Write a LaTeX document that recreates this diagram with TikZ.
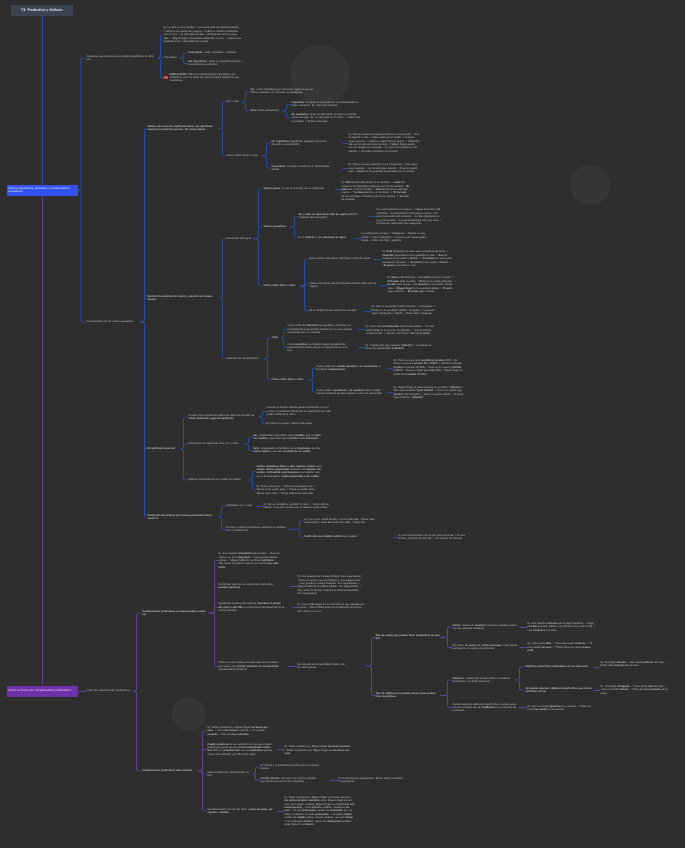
\documentclass[tikz,border=0pt]{standalone}
\usepackage{fontspec}
\setmainfont{Lato}
\usepackage{tikz}
\usetikzlibrary{positioning, calc}
\definecolor{cBg}{RGB}{46,46,46}
\definecolor{cDisc}{RGB}{54,54,54}
\definecolor{cTxt}{RGB}{212,212,212}
\definecolor{cTitle}{RGB}{58,68,80}
\definecolor{cBlue}{RGB}{50,82,238}
\definecolor{cBlueLn}{RGB}{42,76,160}
\definecolor{cPurp}{RGB}{112,48,170}
\definecolor{cPurpLn}{RGB}{96,66,150}
\definecolor{cRed}{RGB}{222,64,64}
\pgfdeclarelayer{back}
\pgfdeclarelayer{lines}
\pgfsetlayers{back,lines,main}
\tikzset{
	titlebox/.style={rectangle, fill=cTitle, text=white, font=\fontsize{3.6}{4.2}\selectfont\bfseries, minimum width=62pt, minimum height=11pt, inner sep=1pt},
	mainb/.style   ={rectangle, fill=cBlue, text=white, font=\fontsize{3}{3.6}\selectfont, text width=68pt, minimum height=11pt, align=left, inner sep=1.5pt},
	mainp/.style   ={mainb, fill=cPurp},
	topic/.style   ={anchor=west, text=cTxt, font=\fontsize{2.6}{3.4}\selectfont, align=left, inner sep=0.5pt},
	hot/.style     ={topic, font=\fontsize{2.6}{3.4}\selectfont\bfseries},
	alert/.style   ={rectangle, fill=cRed, text=white, font=\fontsize{2.4}{2.4}\selectfont\bfseries, minimum size=3.6pt, inner sep=0pt},
	% connector styles
	bl/.style      ={draw=cBlueLn, line width=0.7pt, rounded corners=1.5pt},
	pl/.style      ={draw=cPurpLn, line width=0.7pt, rounded corners=1.5pt},
}

\begin{document}
\begin{tikzpicture}[x=1pt, y=-1pt]
\begin{pgfonlayer}{back}
	\fill[cBg] (0,0) rectangle (685,848);
	\fill[cDisc] (320,75) circle (30);
	\fill[cDisc] (590,185) circle (20);
	\fill[cDisc] (189,714) circle (17);
\end{pgfonlayer}
\useasboundingbox (0,0) rectangle (685,848);

\node[titlebox] (title) at (42,10.5) {T3: Predicativo y Atributo};
\node[mainb] (vcop) at (42,190) {Verbos copulativos, atributos y construcciones copulativas};
\node[mainp] (cpred) at (42,691) {Construcciones con complementos predicativos};

% ---- verbos copulativos
\node[topic, text width=70pt] (ora) at (86,58) {Oraciones que contienen una relación predicativa de atributo};
\node[topic, text width=53pt] (car) at (86,322) {Características de los verbos copulativos};

\node[topic, text width=78pt] (ora1) at (163,35) {Ej. La niña es muy amable. / La comida está rica (diferenciación). / Jaime se ha vuelto muy seguro. / Isabel se muestra satisfecha con su casa. / El café anda escaso. / El bienestar parece asegurado. / Miguel llegó a los puestos exhausto, al verle. / Isabel se ha quedado triste y deprimida por el gato.};
\node[topic, text width=14pt] (dos) at (164,58) {Dos clases};
\node[alert] (icn) at (166,77.5) {!};
\node[topic, text width=70pt, right=1pt of icn] (concl) {\textbf{CONCLUSIÓN}: Todas las construcciones copulativas son atributivas, pero no todas las construcciones atributivas son copulativas.};
\node[topic, text width=62pt] (cop) at (188,53) {\textbf{Copulativos}: verbo copulativo + atributo};
\node[topic, text width=60pt] (ncop) at (188,63.5) {\textbf{No Copulativos}: verbo no copulativo (pleno) + complemento predicativo};

\node[hot, text width=70pt] (vac) at (147,128.5) {Verbos casi vacíos de significado léxico, con significado aspectual o modal de persona. No verbos plenos.};
\node[hot, text width=70pt] (rsem) at (147,298) {Restricción semántica del sujeto y selección de complementos};
\node[hot, text width=32pt] (asp) at (147,449) {El significado aspectual};
\node[hot, text width=70pt] (sust) at (147,517) {Sustitución del atributo por la forma pronominal átona neutra lo};

\node[topic, text width=14pt] (sye) at (226,102) {Ser y estar};
\node[topic, text width=35pt] (otr1) at (226,156) {Otros verbos afines a estar};
\node[topic, text width=66pt] (ser) at (250,91) {\textbf{Ser}: verbo copulativo que afirma del sujeto lo que significa el atributo. Ej. Mi padre es inteligente.};
\node[topic, text width=30pt] (est) at (250,111) {\textbf{Estar} (verbo polivalente)};
\node[topic, text width=70pt] (estc) at (291,104.5) {\textbf{Copulativo}: el sujeto se encuentra en un determinado estado o situación. Ej. Juan está cansado.};
\node[topic, text width=70pt] (estn) at (291,118) {\textbf{No copulativo} (verbo de ubicación): necesita un complemento de lugar. Ej. La casa está en el centro. / Isabel está en el baño. / El libro está aquí.};
\node[topic, text width=62pt] (nc1) at (271,143) {\textbf{No copulativos} (significado originario de acción, situación o movimiento)};
\node[topic, text width=60pt] (c1) at (271,168) {\textbf{Copulativos}: el sujeto se halla en un determinado estado};
\node[topic, text width=72pt] (nc1e) at (348,143) {Ej. Teresa se puso la chaqueta (colocarse una prenda). / Ana se marchó a casa. / Jaime anda por el pasillo. / La lluvia sigue cayendo. / Isabel se volvió hacia la puerta. / Sebastián sale por la ventana todos los días. / Miguel Ángel quedó con sus amigos en el parque. / La casa se encuentra en las afueras. / Los niños continúan en el jardín.};
\node[topic, text width=72pt] (c1e) at (348,168.5) {Ej. Teresa se puso contenta al ver a Alejandro. / Sara anda muy ocupada. / La comida sigue caliente. / El perro quedó solo. / Raquel se ha quedado sorprendida con la noticia.};

\node[topic, text width=26pt] (rsuj) at (226,239) {Restricción del sujeto};
\node[topic, text width=36pt] (scomp) at (226,359) {Selección de complementos};
\node[topic, text width=68pt] (vpl) at (263,189) {\textbf{Verbos plenos}: el que lo restringe por su significado};
\node[topic, text width=25pt] (vcp) at (263,227) {\textbf{Verbos copulativos}};
\node[topic, text width=36pt] (otr2) at (263,286) {\textbf{Otros verbos afines a estar}};
\node[topic, text width=68pt] (vple) at (341,191.5) {Ej. \textbf{Marina} (humano) abrazó a su hermana. / \textbf{Laura} (humano) se ha marchado a Valencia este fin de semana. / \textbf{El árbol} (ser vivo) ha crecido. / \textbf{Jaime} (humano) ha pensado mucho. / \textbf{*La mesa} abrazó a su hermano. / \textbf{*El tornado} se ha marchado a Valencia este fin de semana. / \textbf{*La roca} ha pensado.};
\node[topic, text width=64pt] (sns) at (298,216.5) {\textbf{Ser y estar no seleccionan tipo de sujeto} (admiten cualquier tipo de sujeto)};
\node[topic, text width=52pt] (esa1) at (298,238) {Es el \textbf{atributo} el que \textbf{selecciona el sujeto}};
\node[topic, text width=66pt] (snse) at (376,217) {Ej. Laura (humano) es morena. / Miguel (humano) está enfadado. / El ordenador (inanimado) es nuevo. / El perro (animado) está contento. / La idea (abstracto) es muy interesante. / La sala (inanimado) está muy llena. / El bienestar (abstracto) está asegurado.};
\node[topic, text width=68pt] (esa1e) at (361,237.5) {La conferencia es larga / *inteligente. / Miriam es muy astuta / *muy rectangular. / La mesa está *preocupada / limpia. / Julia está *ágil / agotada.};
\node[topic, text width=63pt] (evr) at (309,259) {Estos verbos copulativos restringen el tipo de sujeto};
\node[topic, text width=68pt] (cds) at (309,285) {Como copulativos (desemantizados) admiten todo tipo de sujetos};
\node[topic, text width=54pt] (esa2) at (309,311) {Es el atributo el que selecciona el sujeto};
\node[topic, text width=70pt] (evre) at (382,259) {Ej. \textbf{Ruth} (femenino) se puso unos pantalones de pinza. / \textbf{Sebastián} (masculino) se ha quedado en casa. / \textbf{Ana} (femenino) se ha vuelto a Madrid. / \textbf{*La lámpara} se puso unos pantalones de pinza. / \textbf{*La sartén} se ha vuelto a Madrid. / \textbf{*El guante} se quedó en casa.};
\node[topic, text width=68pt] (cdse) at (387,285) {Ej. \textbf{Elena} anda distraída. / \textbf{La sartén} anda por el suelo. / \textbf{El tiempo} anda revuelto. / \textbf{El río} se ha vuelto peligroso. / \textbf{El café} anda escaso. / \textbf{La situación} se ha vuelto complicada. / \textbf{Miguel Ángel} se ha quedado callado. / \textbf{El perro} sigue enfermo. / \textbf{El pastel} sigue caliente.};
\node[topic, text width=66pt] (esa2e) at (371,310.5) {Ej. Juan se ha puesto/vuelto nervioso / *rectangular. / El libro se ha quedado *pálido / arrugado. / La puerta sigue *inteligente / abierta. / Elena anda *triangular.};

\node[topic, text width=8pt] (sest) at (272,338) {\textbf{Estar}};
\node[topic, text width=36pt] (otr3) at (271,380) {\textbf{Otros verbos afines a estar}};
\node[topic, text width=65pt] (ubi) at (287,329.5) {Como verbo de \textbf{ubicación} no copulativo, selecciona un complemento preposicional locativo (en su uso espacial, no omisible por el contexto)};
\node[topic, text width=65pt] (ecop) at (287,347.5) {Como \textbf{copulativo}, no implica ningún complemento preposicional locativo porque su significado es estativo};
\node[topic, text width=70pt] (ubie) at (365,330.5) {Ej. Laura está \textbf{en Ponferrada} este fin de semana. / Yo solo estaré \textbf{tarde} en la casa de mis abuelos. / *Laura está (sin complemento). / ¿Dónde está Carlos? Está \textbf{en el jardín}.};
\node[topic, text width=68pt] (ecope) at (365,347.5) {Ej. Virginia está muy cansada \textbf{*(¿dónde?)} / La película estuvo muy entretenida \textbf{*(¿dónde?)}.};
\node[topic, text width=66pt] (mov) at (316,368) {Como verbos de \textbf{sentido ubicativo} o de \textbf{movimiento} seleccionan \textbf{complementos}};
\node[topic, text width=66pt] (ncl) at (316,392) {Como verbos \textbf{copulativos} o \textbf{no requieren} estos complementos locativos (pueden aparecer, pero son opcionales)};
\node[topic, text width=70pt] (move) at (393,367.5) {Ej. Marta se puso unos \textbf{pantalones de pinza} (OD). / Alberto se puso \textbf{en primera fila} (CPREP). / Gabriela anda \textbf{por la playa} a menudo (CPREP). / Anna se ha vuelto \textbf{a Madrid} (CPREP). / El perro siguió \textbf{a su ama} (OD). / Miguel Ángel se quedó \textbf{en el pueblo} (CPREP).};
\node[topic, text width=70pt] (ncle) at (393,392.5) {Ej. Miguel Ángel se puso nervioso en la sesión \textbf{*(¿dónde?)} / Sara anda ocupada \textbf{*(¿por dónde?)}. / Ana se ha vuelto \textbf{*(¿a dónde?)} más tranquila. / Jaime se quedó callado. / El perro sigue enfermo \textbf{*(¿dónde?)}.};

\node[topic, text width=69pt] (apes) at (188,417) {A pesar de su significado abstracto, difícil de precisar, \textbf{se añade solamente rasgos de significado}};
\node[topic, text width=55pt] (dif) at (188,444) {Diferencias de significado entre ser y estar};
\node[topic, text width=59pt] (mat) at (188,480) {Matices aspectuales de los verbos de cambio};
\node[topic, text width=66pt] (cuan) at (266,411.5) {Cuando un mismo atributo puede combinarse con ser y estar, se producen diferencias de significado que solo puede atribuirse al verbo};
\node[topic, text width=60pt] (elev) at (266,424) {Ej. Elevar es guapo / Elevar está guapo};
\node[topic, text width=68pt] (ser2) at (253,437) {\textbf{Ser}: propiedades concebidas como \textbf{estables}, que no \textbf{implican cambio} y que sirven para \textbf{clasificar a los individuos}.};
\node[topic, text width=68pt] (est2) at (253,450.5) {\textbf{Estar}: propiedades concebidas como \textbf{transitorias}, que \textbf{implican cambio} y que \textbf{son resultado de un cambio}.};
\node[topic, text width=66pt] (vca) at (256,471.5) {\textbf{Verbos copulativos afines a estar implican cambio}, pero \textbf{añaden matices aspectuales} referidos a la \textbf{duración del cambio}, \textbf{continuidad o permanencia} en el estado. Son, en su denominación, \textbf{verbos aspectuales o de cambio}.};
\node[topic, text width=66pt] (tere) at (256,490) {Ej. Teresa está seria. / Teresa se ha puesto seria. / Teresa se ha vuelto seria. / Teresa se quedó seria. / Teresa sigue seria. / Teresa anda seria estos días.};

\node[topic, text width=27pt] (apl) at (226,506) {Aplicable a ser y estar};
\node[topic, text width=61pt] (resto) at (226,529.5) {El resto a verbos copulativos sustituyen su atributo por el adverbio así};
\node[topic, text width=68pt] (aple) at (263,506) {Ej. Sara es simpática, ¿verdad? Sí, \textbf{lo} es. / Jaime está enfadado. Sí, \textbf{lo} está, aunque por la mañana no \textbf{lo} estaba.};
\node[topic, text width=70pt] (rese) at (304,521) {Ej. Luis se ha vuelto tacaño / Se ha vuelto \textbf{así}. / Elena anda preocupada / Anda \textbf{así} desde hace días. / Sigue \textbf{así}.};
\node[hot, text width=80pt] (tamb) at (304,537) {Sustitución que también admiten ser y estar};
\node[topic, text width=70pt] (tambe) at (398,537.5) {Ej. Está nerviosísimo. No sé por qué estará \textbf{así}. / Es muy tímida. ¿Siempre ha sido \textbf{así}? / Sí, siempre ha sido \textbf{así}.};

% ---- complementos predicativos
\node[topic, text width=45pt] (clas) at (86,691) {Clases de complementos predicativos};
\node[hot, text width=65pt] (nsel) at (142,613) {Complementos predicativos no seleccionados o adjuntos};
\node[hot, text width=55pt] (sel) at (142,771) {Complementos predicativos seleccionados};

\node[topic, text width=62pt] (nse) at (218,560.5) {Ej. Ana paseaba \textbf{somnolienta} por la playa. / Rosa se volvió a su casa \textbf{disgustada}. / Juan guardó \textbf{sucia} la camisa. / Miguel habló de sus libros \textbf{satisfecho}. / Tras recibir el premio, Federico se mostró \textbf{muy satisfecho}.};
\node[topic, text width=64pt] (nfp) at (218,586) {No forman parte de los argumentos del verbo y \textbf{pueden suprimirse}};
\node[topic, text width=66pt] (sig) at (218,607.5) {Significado (carácter descriptivo): \textbf{describen el estado del sujeto o del OD} en el transcurso del desarrollo de la acción principal};
\node[topic, text width=62pt] (ent) at (218,666.5) {Entre la acción verbal y la expresada por el predicativo existe una \textbf{relación semántica de temporalidad} (simultaneidad temporal)};
\node[topic, text width=66pt] (nfpe) at (297,585.5) {Ej. Ana paseaba por la playa (Pasear: dos argumentos). / Rosa se volvió a su casa (Volverse: dos argumentos). / Juan guardó la camisa (Guardar: tres argumentos). / Miguel habló de sus libros (Hablar: dos argumentos). / Tras recibir el premio, Federico se mostró (Mostrarse: dos argumentos).};
\node[topic, text width=68pt] (sige) at (297,608) {Ej. Ana estaba alegre en el momento en que paseaba por la playa. / Rosa estaba triste en el momento preciso en que volvía a su casa.};
\node[topic, text width=50pt] (esar) at (297,666) {Esa relación de temporalidad implica ciertas restricciones};
\node[hot, text width=64pt] (tverb) at (375,637.5) {Tipo de verbos que pueden llevar predicativos de este tipo};
\node[hot, text width=64pt] (tadj) at (375,695.5) {Tipo de adjetivos que pueden actuar como predicativos descriptivos};
\node[topic, text width=66pt] (vdur) at (452,627) {\textbf{Verbos}: deben ser \textbf{durativos} (acciones, estados o procesos con duración temporal)};
\node[topic, text width=66pt] (nest) at (452,647.5) {Por tanto, \textbf{no suelen ser verbos puntuales}, ni de estado permanente, ni verbos de existencia};
\node[topic, text width=68pt] (vdure) at (527,627) {Ej. Ana paseaba \textbf{contenta} por la playa (durativo). / Llegó \textbf{cansado} (puntual, admite el predicativo en su fase final). / Leía \textbf{tranquila} en el salón.};
\node[topic, text width=68pt] (neste) at (527,647.5) {Ej. *Juan existe \textbf{feliz}. / *Ana sabe inglés \textbf{contenta}. / *El tren estalló \textbf{nervioso}. / *Pedro tiene un coche \textbf{preocupado}.};
\node[topic, text width=62pt] (atr) at (452,680) {\textbf{Adjetivos}: caracterizan estados físicos o anímicos transitorios, con límite temporal};
\node[topic, text width=66pt] (aimp) at (452,707.5) {Pueden aparecer adjetivos imperfectivos cuando expresan una cualidad que \textbf{se manifiesta} en un momento determinado};
\node[hot, text width=68pt] (aper) at (525,667) {Adjetivos perfectivos combinables con el verbo estar};
\node[hot, text width=68pt] (noap) at (525,690) {No pueden aparecer adjetivos imperfectivos que solo se combinan con ser};
\node[topic, text width=70pt] (apere) at (600,664) {Ej. Ana llegó \textbf{cansada}. / Juan volvió \textbf{enfermo} del viaje. / Pedro salió \textbf{contento} del examen.};
\node[topic, text width=70pt] (noape) at (600,690) {Ej. *Ana llegó \textbf{inteligente}. / *Juan volvió \textbf{alto} del viaje. / *Luis se marchó \textbf{famoso}. / *Rosa paseaba \textbf{prudente} por la playa.};
\node[topic, text width=68pt] (aimpe) at (527,708.5) {Ej. Juan se mostró \textbf{generoso} con nosotros. / Pedro estuvo \textbf{muy amable} en la reunión.};

\node[topic, text width=62pt] (sele) at (207,731) {Ej. Todos consideran a Miguel Ángel \textbf{una buena persona}. / Creo \textbf{más sincero} a Andrés. / Te veo \textbf{preocupado}. / Nos vio \textbf{muy contentos}.};
\node[topic, text width=66pt] (pue) at (207,749.5) {\textbf{Pueden predicarse} de un sustantivo en los que el predicado forma parte de una \textbf{oración subordinada sustantiva} (CD): se \textbf{complementan} con un \textbf{predicativo} que funciona como atributo y el OD como sujeto.};
\node[topic, text width=45pt] (sdv) at (207,774) {Seleccionados por determinados verbos};
\node[topic, text width=66pt] (sem) at (207,811) {Semánticamente son de dos tipos: \textbf{verbos de juicio}, \textbf{percepción} o \textbf{volición}.};
\node[topic, text width=68pt] (puee) at (284,750) {Ej. Todos consideran a Miguel Ángel \textbf{una buena persona}. / Todos consideran que Miguel Ángel es \textbf{una buena persona}.};
\node[topic, text width=64pt] (odn) at (260,767) {El OD (N) y el predicativo constituyen una oración mínima};
\node[topic, text width=60pt] (omin) at (260,780) {\textbf{Oración mínima}: estructura sin marcas verbales que denota una asociación copulativa};
\node[topic, text width=64pt] (omine) at (338,780) {Ej. El alumno [es] inapropiado / Elevar [está] entendido e inapropiado.};
\node[topic, text width=70pt] (seme) at (284,811) {Ej. Todos consideran a Miguel Ángel una buena persona: \textbf{los verbos de juicio valorativo} como Miguel Ángel (\textit{considerar}, \textit{creer}, \textit{juzgar}, \textit{estimar}): Miguel Ángel es considerado \textbf{una buena persona}. / Creo \textbf{sincero} a Andrés: Andrés es \textbf{sincero}. / Te veo \textbf{preocupado}: verbos de \textbf{percepción} (\textit{ver}, \textit{oír}, \textit{notar}, \textit{encontrar}): tú estás \textbf{preocupado}. / Lo quiero \textbf{limpio}: verbos de \textbf{volición} (\textit{querer}, \textit{desear}, \textit{preferir}): que esté \textbf{limpio}. / Lo nombraron \textbf{director}: verbos de \textbf{designación} (\textit{nombrar}, \textit{elegir}, \textit{llamar}): es \textbf{director}.};

% ---- connectors
\begin{pgfonlayer}{lines}
\draw[pl] (title) -- (cpred);
\draw[bl] (title) -- (vcop);
\foreach \c in {ora,car} \draw[bl] (vcop.east) -- ++(3pt,0) |- (\c.west);
\foreach \c in {ora1,dos,icn} \draw[bl] (ora.east) -- ++(3pt,0) |- (\c.west);
\foreach \c in {cop,ncop} \draw[bl] (dos.east) -- ++(4pt,0) |- (\c.west);
\foreach \c in {vac,rsem,asp,sust} \draw[bl] (car.east) -- ++(4pt,0) |- (\c.west);
\foreach \c in {sye,otr1} \draw[bl] (vac.east) -- ++(4pt,0) |- (\c.west);
\foreach \c in {ser,est} \draw[bl] (sye.east) -- ++(4pt,0) |- (\c.west);
\foreach \c in {estc,estn} \draw[bl] (est.east) -- ++(5pt,0) |- (\c.west);
\foreach \c in {nc1,c1} \draw[bl] (otr1.east) -- ++(4pt,0) |- (\c.west);
\draw[bl, shorten <=8pt] (nc1) -- (nc1e);
\draw[bl, shorten <=10pt] (c1.east) -- (c1e.west |- c1.east);
\foreach \c in {rsuj,scomp} \draw[bl] (rsem.east) -- ++(4pt,0) |- (\c.west);
\foreach \c in {vpl,vcp,otr2} \draw[bl] (rsuj.east) -- ++(5pt,0) |- (\c.west);
\draw[bl, shorten <=3pt] (vpl.east) -- (vple.west |- vpl.east);
\foreach \c in {sns,esa1} \draw[bl] (vcp.east) -- ++(5pt,0) |- (\c.west);
\draw[bl, shorten <=6pt] (sns.east) -- (snse.west |- sns.east);
\draw[bl, shorten <=3pt] (esa1.east) -- (esa1e.west |- esa1.east);
\foreach \c in {evr,cds,esa2} \draw[bl] (otr2.east) -- ++(4pt,0) |- (\c.west);
\draw[bl] (evr.east) -- (evre.west |- evr.east);
\draw[bl, shorten <=2pt] (cds.east) -- (cdse.west |- cds.east);
\draw[bl] (esa2.east) -- (esa2e.west |- esa2.east);
\foreach \c in {sest,otr3} \draw[bl] (scomp.east) -- ++(4pt,0) |- (\c.west);
\foreach \c in {ubi,ecop} \draw[bl] (sest.east) -- ++(2pt,0) |- (\c.west);
\draw[bl, shorten <=5pt] (ubi.east) -- (ubie.west |- ubi.east);
\draw[bl, shorten <=5pt] (ecop.east) -- (ecope.west |- ecop.east);
\foreach \c in {mov,ncl} \draw[bl] (otr3.east) -- ++(4pt,0) |- (\c.west);
\draw[bl, shorten <=4pt] (mov.east) -- (move.west |- mov.east);
\draw[bl, shorten <=4pt] (ncl.east) -- (ncle.west |- ncl.east);
\foreach \c in {apes,dif,mat} \draw[bl] (asp.east) -- ++(3pt,0) |- (\c.west);
\foreach \c in {cuan,elev} \draw[bl] (apes.east) -- ++(4pt,0) |- (\c.west);
\foreach \c in {ser2,est2} \draw[bl] (dif.east) -- ++(4pt,0) |- (\c.west);
\foreach \c in {vca,tere} \draw[bl] (mat.east) -- ++(4pt,0) |- (\c.west);
\foreach \c in {apl,resto} \draw[bl] (sust.east) -- ++(3pt,0) |- (\c.west);
\draw[bl, shorten <=3pt] (apl.east) -- (aple.west |- apl.east);
\foreach \c in {rese,tamb} \draw[bl] (resto.east) -- ++(11pt,0) |- (\c.west);
\draw[bl, shorten <=8pt] (tamb.east) -- (tambe.west |- tamb.east);
% purple branch
\draw[pl] (cpred.east) -- (clas.west |- cpred.east);
\foreach \c in {nsel,sel} \draw[pl] (clas.east) -- ++(4pt,0) |- (\c.west);
\foreach \c in {nse,nfp,sig,ent} \draw[pl] (nsel.east) -- ++(6pt,0) |- (\c.west);
\draw[pl, shorten <=7pt] (nfp.east) -- (nfpe.west |- nfp.east);
\draw[pl, shorten <=7pt] (sig.east) -- (sige.west |- sig.east);
\draw[pl, shorten <=7pt] (ent.east) -- (esar.west |- ent.east);
\foreach \c in {tverb,tadj} \draw[pl, shorten <=18pt] (esar.east) -- ++(23pt,0) |- (\c.west);
\foreach \c in {vdur,nest} \draw[pl] (tverb.east) -- ++(7pt,0) |- (\c.west);
\draw[pl] (vdur.east) -- (vdure.west |- vdur.east);
\draw[pl] (nest.east) -- (neste.west |- nest.east);
\foreach \c in {atr,aimp} \draw[pl] (tadj.east) -- ++(7pt,0) |- (\c.west);
\foreach \c in {aper,noap} \draw[pl] (atr.east) -- ++(4pt,0) |- (\c.west);
\draw[pl] (aper.east) -- (apere.west |- aper.east);
\draw[pl] (noap.east) -- (noape.west |- noap.east);
\draw[pl] (aimp.east) -- (aimpe.west |- aimp.east);
\foreach \c in {sele,pue,sdv,sem} \draw[pl] (sel.east) -- ++(4pt,0) |- (\c.west);
\draw[pl, shorten <=3pt] (pue.east) -- (puee.west |- pue.east);
\foreach \c in {odn,omin} \draw[pl] (sdv.east) -- ++(2pt,0) |- (\c.west);
\draw[pl, shorten <=9pt] (omin.east) -- (omine.west |- omin.east);
\draw[pl, shorten <=3pt] (sem.east) -- (seme.west |- sem.east);
\end{pgfonlayer}
\end{tikzpicture}
\end{document}
